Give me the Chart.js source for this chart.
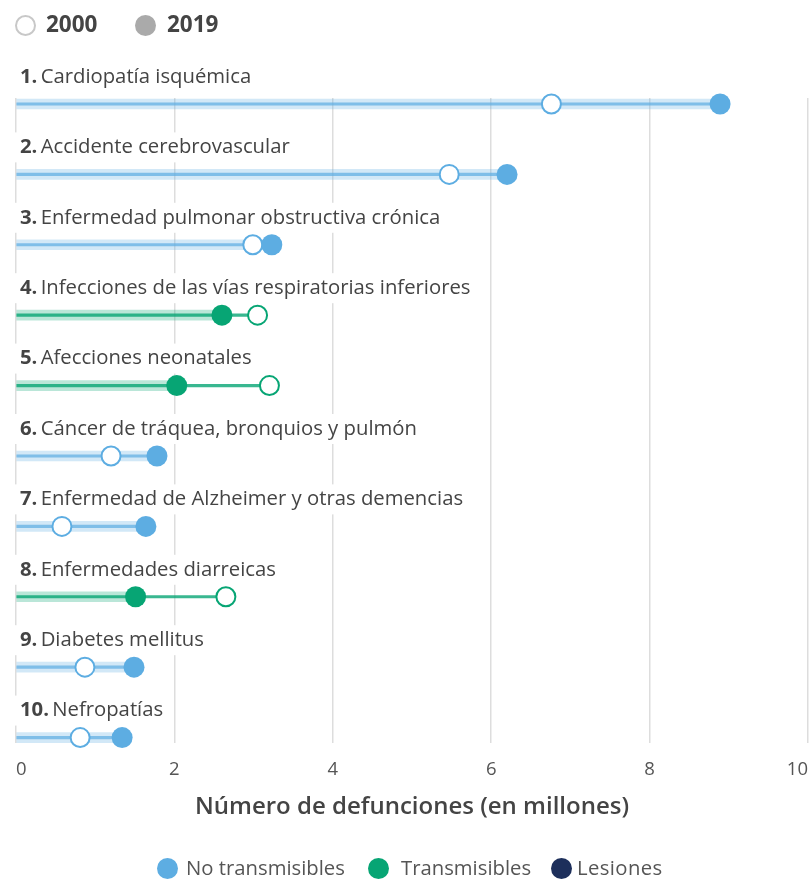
<!DOCTYPE html>
<html>
<head>
<meta charset="utf-8">
<script src="https://cdn.jsdelivr.net/npm/chart.js@4/dist/chart.umd.min.js"></script>
<style>
  html, body { margin: 0; padding: 0; background: #fff; overflow: hidden; }
  #wrap { position: relative; width: 812px; height: 882px; overflow: hidden; font-family: "Open Sans", sans-serif; }
  #c { position: absolute; left: 0; top: 0; }
  .it { position: absolute; white-space: nowrap; line-height: 1; }
  .dot { position: absolute; border-radius: 50%; box-sizing: border-box; width: 21px; height: 21px; }
  .top { font-size: 22.5px; font-weight: 700; color: #444; top: 13px; }
  .bot { font-size: 20.3px; color: #555; top: 857px; }
</style>
</head>
<body>
<div id="wrap">
  <canvas id="c" width="824" height="882"></canvas>
  <span class="dot" style="left:15px;top:15px;border:2px solid #c8c8c8;background:#fff"></span>
  <span class="it top" style="left:46px">2000</span>
  <span class="dot" style="left:135px;top:15px;background:#aaaaaa"></span>
  <span class="it top" style="left:167px">2019</span>

  <span class="dot" style="left:157px;top:858px;background:#5dade2"></span>
  <span class="it bot" style="left:186px">No transmisibles</span>
  <span class="dot" style="left:368px;top:858px;background:#07a574"></span>
  <span class="it bot" style="left:401px">Transmisibles</span>
  <span class="dot" style="left:551px;top:858px;background:#1d2f5b"></span>
  <span class="it bot" style="left:577px;letter-spacing:0.4px">Lesiones</span>
</div>
<script>
const numbers = ["1.", "2.", "3.", "4.", "5.", "6.", "7.", "8.", "9.", "10."];
const causes = [
  "Cardiopatía isquémica",
  "Accidente cerebrovascular",
  "Enfermedad pulmonar obstructiva crónica",
  "Infecciones de las vías respiratorias inferiores",
  "Afecciones neonatales",
  "Cáncer de tráquea, bronquios y pulmón",
  "Enfermedad de Alzheimer y otras demencias",
  "Enfermedades diarreicas",
  "Diabetes mellitus",
  "Nefropatías"
];
const groups = ["nt", "nt", "nt", "t", "t", "nt", "nt", "t", "nt", "nt"];
const deaths2000 = [6.76, 5.47, 2.99, 3.05, 3.20, 1.20, 0.58, 2.65, 0.87, 0.81];
const deaths2019 = [8.89, 6.20, 3.23, 2.60, 2.03, 1.78, 1.64, 1.51, 1.49, 1.34];
const xTicks = [0, 2, 4, 6, 8, 10];

const solid = { nt: "#5dade2", t: "#07a574", l: "#1d2f5b" };
const light = { nt: "rgba(93,173,226,0.28)", t: "rgba(7,165,116,0.28)", l: "rgba(29,47,91,0.28)" };
const mid = { nt: "rgba(93,173,226,0.7)", t: "rgba(7,165,116,0.8)", l: "rgba(29,47,91,0.8)" };

const idx = causes.map((_, i) => i);
const LABEL_FONT = 20.3;

const rowLabels = {
  id: "rowLabels",
  beforeDatasetsDraw(chart) {
    const ctx = chart.ctx;
    const ys = chart.scales.y;
    ctx.save();
    ctx.textBaseline = "middle";
    idx.forEach(i => {
      const y = ys.getPixelForValue(i) - 27;
      ctx.font = "700 " + LABEL_FONT + "px 'Open Sans'";
      const w1 = ctx.measureText(numbers[i] + " ").width;
      ctx.font = "400 " + LABEL_FONT + "px 'Open Sans'";
      const w2 = ctx.measureText(causes[i]).width;
      ctx.fillStyle = "#fff";
      ctx.fillRect(13, y - 15, 7 + w1 + w2 + 4, 30);
      ctx.fillStyle = "#444";
      ctx.font = "700 " + LABEL_FONT + "px 'Open Sans'";
      ctx.fillText(numbers[i], 20, y);
      ctx.font = "400 " + LABEL_FONT + "px 'Open Sans'";
      ctx.fillText(causes[i], 20 + w1 - 2, y);
    });
    ctx.restore();
  }
};

new Chart(document.getElementById("c"), {
  type: "bar",
  data: {
    datasets: [
      {
        type: "bar",
        indexAxis: "y",
        grouped: false,
        order: 4,
        data: idx.map(i => ({ x: [0, deaths2019[i]], y: i })),
        backgroundColor: idx.map(i => light[groups[i]]),
        barThickness: 10,
        borderWidth: 0
      },
      {
        type: "bar",
        indexAxis: "y",
        grouped: false,
        order: 3,
        data: idx.map(i => ({ x: [0, Math.max(deaths2000[i], deaths2019[i])], y: i })),
        backgroundColor: idx.map(i => mid[groups[i]]),
        barThickness: 2.5,
        borderWidth: 0
      },
      {
        type: "scatter",
        label: "2000",
        order: 2,
        clip: false,
        data: idx.map(i => ({ x: deaths2000[i], y: i })),
        pointRadius: 9.5,
        pointHoverRadius: 9.5,
        pointBackgroundColor: "#fff",
        pointBorderColor: idx.map(i => solid[groups[i]]),
        pointBorderWidth: 2,
        showLine: false
      },
      {
        type: "scatter",
        label: "2019",
        order: 1,
        clip: false,
        data: idx.map(i => ({ x: deaths2019[i], y: i })),
        pointRadius: 10.5,
        pointHoverRadius: 10.5,
        pointBackgroundColor: idx.map(i => solid[groups[i]]),
        pointBorderWidth: 0,
        showLine: false
      }
    ]
  },
  options: {
    responsive: false,
    animation: false,
    layout: { padding: { top: 98, left: 14, right: 0, bottom: 60 } },
    plugins: { legend: { display: false }, tooltip: { enabled: false } },
    scales: {
      x: {
        type: "linear",
        min: 0,
        max: 10,
        offset: false,
        afterBuildTicks(scale) { scale.ticks = xTicks.map(v => ({ value: v })); },
        afterFit(scale) { scale.height = 79; },
        grid: { color: "#dddddd", lineWidth: 1.5, drawTicks: false, offset: false },
        border: { display: false },
        ticks: { color: "#555", font: { family: "Open Sans", size: 18.5 }, padding: 16, align: "inner", maxRotation: 0 },
        title: {
          display: true,
          text: "Número de defunciones (en millones)",
          color: "#444",
          font: { family: "Open Sans", size: 24, weight: 600 },
          padding: { top: 6, bottom: 0 }
        }
      },
      y: {
        type: "linear",
        reverse: true,
        offset: false,
        min: -0.085,
        max: 9.077,
        display: false,
        grid: { display: false, offset: false }
      }
    }
  },
  plugins: [rowLabels]
});
</script>
</body>
</html>
